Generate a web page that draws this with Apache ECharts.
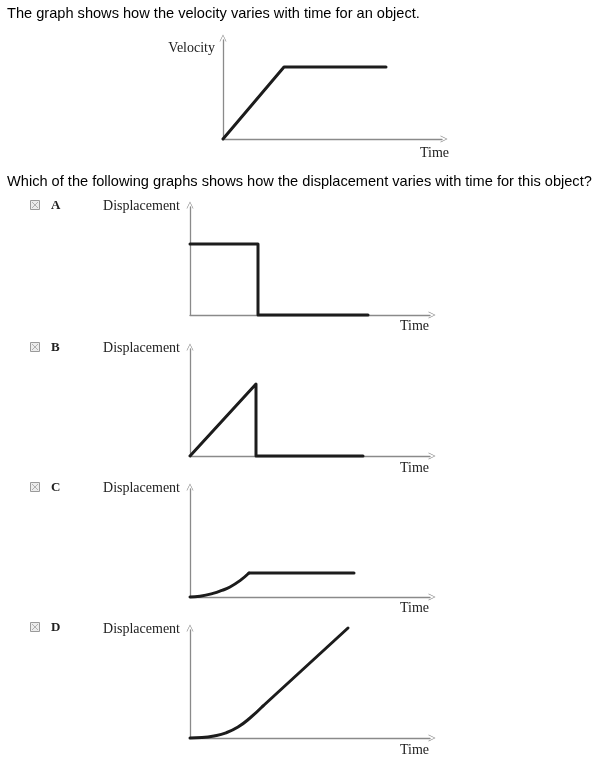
<!DOCTYPE html>
<html>
<head>
<meta charset="utf-8">
<script src="https://cdn.jsdelivr.net/npm/echarts@6/dist/echarts.min.js"></script>
<style>html,body{margin:0;padding:0;background:#fff}#c{width:605px;height:773px}</style>
</head>
<body>
<div id="c"></div>
<script>
// ---- texts ----
const questionTop = "The graph shows how the velocity varies with time for an object.";
const questionMid = "Which of the following graphs shows how the displacement varies with time for this object?";
const optionLetters = ["A", "B", "C", "D"];
const yNameTop = "Velocity";
const yNameOpt = "Displacement";
const xName = "Time";

// ---- data (arbitrary units; x = time, y = quantity) ----
const velX = [0, 3.05, 8.15];
const velY = [0, 3.6, 3.6];

const aX = [0, 3.4, 3.4, 8.9];
const aY = [3.55, 3.55, 0, 0];

const bX = [0, 3.3, 3.3, 8.65];
const bY = [0, 3.6, 0, 0];

// C: curved rise then flat
const cCurveX = [0, 0.5, 1.15, 1.6, 2.0, 2.5, 2.95];
const cCurveY = [0, 0.04, 0.18, 0.33, 0.5, 0.82, 1.2];
const cFlatX = [2.95, 8.2];
const cFlatY = [1.2, 1.2];

// D: curved start then straight rise
const dCurveX = [0, 0.6, 1.2, 1.8, 2.4, 3.0, 3.65];
const dCurveY = [0, 0.02, 0.1, 0.26, 0.55, 1.0, 1.6];
const dLineX = [3.65, 7.9];
const dLineY = [1.6, 5.5];

const chart = echarts.init(document.getElementById('c'));

const axisGray = '#8a8a8a';
const lineBlack = '#1c1c1c';
const chevron = 'path://M5,0 L10,10 L9,10 L5,1.8 L1,10 L0,10 Z';
const serif = '"Liberation Serif", "DejaVu Serif", serif';
const sans = '"Liberation Sans", Arial, sans-serif';

const pairs = (xs, ys) => xs.map((x, k) => [x, ys[k]]);

// layout of the five small graphs
const panels = [
  {grid:{left:223, top:40, width:219, height:99}, xmax:10.95, ymax:4.95, yname:yNameTop, ynameGap:-8, ynamePadR:8, xnameGap:7, xnamePadT:7,
   lines:[{d:pairs(velX, velY), smooth:false}]},
  {grid:{left:190, top:207, width:240, height:108}, xmax:12, ymax:5.4, yname:yNameOpt, ynameGap:1, ynamePadR:10, xnameGap:-1, xnamePadT:4,
   lines:[{d:pairs(aX, aY), smooth:false}]},
  {grid:{left:190, top:349, width:240, height:107}, xmax:12, ymax:5.35, yname:yNameOpt, ynameGap:1, ynamePadR:10, xnameGap:-1, xnamePadT:5,
   lines:[{d:pairs(bX, bY), smooth:false}]},
  {grid:{left:190, top:489, width:240, height:108}, xmax:12, ymax:5.4, yname:yNameOpt, ynameGap:1, ynamePadR:10, xnameGap:-1, xnamePadT:4,
   lines:[{d:pairs(cCurveX, cCurveY), smooth:0.5}, {d:pairs(cFlatX, cFlatY), smooth:false}]},
  {grid:{left:190, top:630, width:240, height:108}, xmax:12, ymax:5.4, yname:yNameOpt, ynameGap:1, ynamePadR:10, xnameGap:-1, xnamePadT:5,
   lines:[{d:pairs(dCurveX, dCurveY), smooth:0.5}, {d:pairs(dLineX, dLineY), smooth:false}]}
];

const grid = [], xAxis = [], yAxis = [], series = [];
panels.forEach((p, i) => {
  grid.push(Object.assign({containLabel:false}, p.grid));
  const axisLine = {show:true, symbol:['none', chevron], symbolSize:[7, 8], symbolOffset:[0, 2], lineStyle:{color:axisGray, width:1.3}};
  xAxis.push({
    type:'value', gridIndex:i, min:0, max:p.xmax,
    axisLine: axisLine, axisTick:{show:false}, axisLabel:{show:false}, splitLine:{show:false},
    name:xName, nameLocation:'end', nameGap:p.xnameGap,
    nameTextStyle:{fontFamily:serif, fontSize:14, color:'#222', align:'right', verticalAlign:'top', padding:[p.xnamePadT,0,0,0]}
  });
  yAxis.push({
    type:'value', gridIndex:i, min:0, max:p.ymax,
    axisLine: axisLine, axisTick:{show:false}, axisLabel:{show:false}, splitLine:{show:false},
    name:p.yname, nameLocation:'end', nameGap:p.ynameGap,
    nameTextStyle:{fontFamily:serif, fontSize:14, color:'#222', align:'right', verticalAlign:'middle', padding:[0,p.ynamePadR,0,0]}
  });
  p.lines.forEach(l => {
    series.push({
      type:'line', xAxisIndex:i, yAxisIndex:i, clip:false, symbol:'none', silent:true,
      smooth:l.smooth, data:l.d,
      lineStyle:{color:lineBlack, width:3, join:'round', cap:'round'}
    });
  });
});

// checkbox + option letter graphics
const letterY = [206, 348, 488, 628];
const graphic = [
  {type:'text', left:7, top:6, style:{text:questionTop, font:'14.6px ' + sans, fill:'#000'}},
  {type:'text', left:7, top:174, style:{text:questionMid, font:'14.6px ' + sans, fill:'#000'}}
];
optionLetters.forEach((L, i) => {
  const cy = letterY[i];
  graphic.push({type:'rect', shape:{x:30.5, y:cy-5.5, width:9, height:9}, style:{fill:'#ececec', stroke:'#9a9a9a', lineWidth:1}});
  graphic.push({type:'line', shape:{x1:32, y1:cy-4, x2:38, y2:cy+2}, style:{stroke:'#b0b0b0', lineWidth:1}});
  graphic.push({type:'line', shape:{x1:38, y1:cy-4, x2:32, y2:cy+2}, style:{stroke:'#b0b0b0', lineWidth:1}});
  graphic.push({type:'text', x:51, y:cy, style:{text:L, font:'bold 13px ' + serif, fill:'#222', verticalAlign:'middle'}});
});

chart.setOption({
  animation:false,
  backgroundColor:'#ffffff',
  grid, xAxis, yAxis, series, graphic
});
</script>
</body>
</html>
